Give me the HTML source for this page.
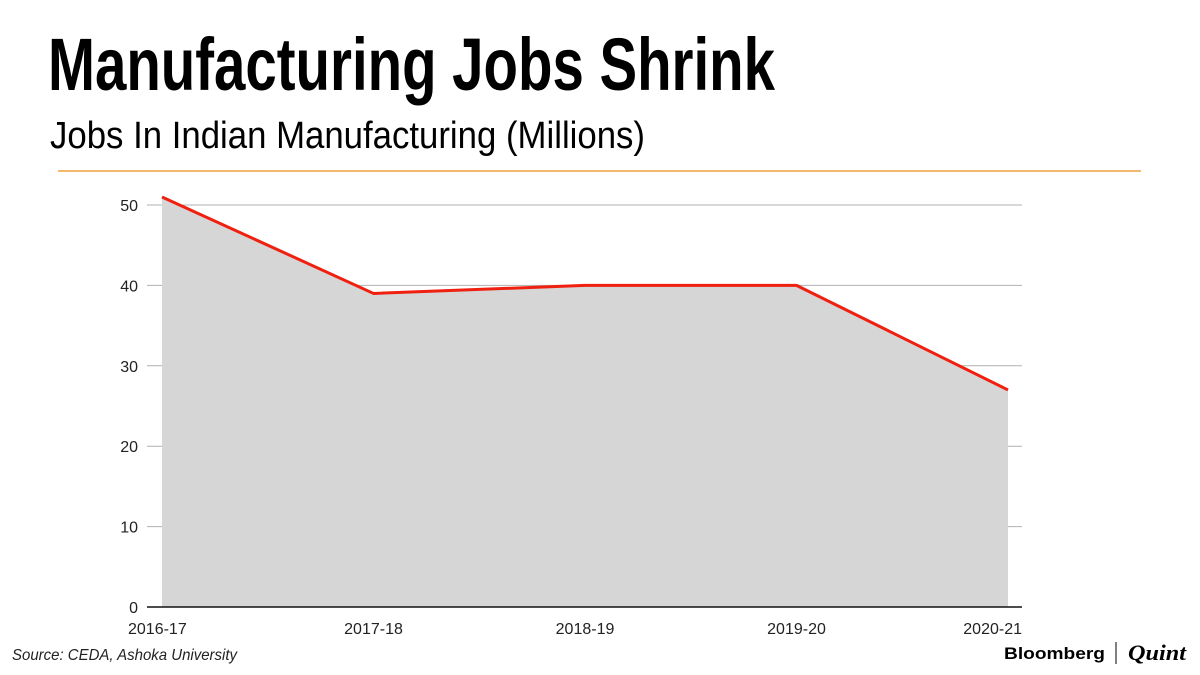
<!DOCTYPE html>
<html><head><meta charset="utf-8"><style>
html,body{margin:0;padding:0;background:#fff;}
svg{display:block;font-family:"Liberation Sans",sans-serif;}
</style></head><body>
<svg width="1200" height="675" viewBox="0 0 1200 675">
<text x="48" y="90" font-size="74" font-weight="bold" textLength="727" lengthAdjust="spacingAndGlyphs">Manufacturing Jobs Shrink</text>
<text x="50" y="148" font-size="38" textLength="595" lengthAdjust="spacingAndGlyphs">Jobs In Indian Manufacturing (Millions)</text>
<line x1="58" y1="171" x2="1141" y2="171" stroke="#f0a040" stroke-width="1.5"/>
<g id="grid"></g>
<g id="area"></g>
<g id="axis"></g>
<text x="12" y="660" font-size="16" font-style="italic" textLength="225" lengthAdjust="spacingAndGlyphs" fill="#222">Source: CEDA, Ashoka University</text>
<g>
<text x="1004" y="659" font-size="17" font-weight="bold" textLength="101" lengthAdjust="spacingAndGlyphs">Bloomberg</text>
<line x1="1116" y1="642" x2="1116" y2="664" stroke="#000" stroke-width="1"/>
<text x="1128" y="660" font-family="Liberation Serif,serif" font-size="22" font-style="italic" font-weight="bold" textLength="58" lengthAdjust="spacingAndGlyphs">Quint</text>
</g>
</svg>
<script>
const categories=["2016-17","2017-18","2018-19","2019-20","2020-21"];
const values=[51,39,40,40,27];
const yTicks=[0,10,20,30,40,50];
const NS="http://www.w3.org/2000/svg";
const x0=162,x1=1008,yBase=607,yTop=205,vMax=50;
function xs(i){return x0+(x1-x0)*i/(categories.length-1);}
function ys(v){return yBase-(yBase-yTop)*v/vMax;}
function mk(tag,attrs,parent){const e=document.createElementNS(NS,tag);for(const k in attrs)e.setAttribute(k,attrs[k]);parent.appendChild(e);return e;}
const grid=document.getElementById('grid'),area=document.getElementById('area'),axis=document.getElementById('axis');
yTicks.forEach(t=>{
  if(t>0){const l=mk('line',{x1:147,x2:1022,y1:ys(t),y2:ys(t),stroke:'#b0b0b0','stroke-width':1},grid);
  
  }
  const tx=mk('text',{x:138,y:ys(t)+6,'font-size':16,'text-anchor':'end',fill:'#222'},axis);
  tx.textContent=t;
  
  
});
let pts=values.map((v,i)=>xs(i)+','+ys(v)).join(' ');
const poly=mk('polygon',{points:xs(0)+','+yBase+' '+pts+' '+xs(values.length-1)+','+yBase,fill:'#d6d6d6'},area);


const line=mk('polyline',{points:pts,fill:'none',stroke:'#f02010','stroke-width':3,'stroke-linejoin':'round'},area);


const base=mk('line',{x1:147,x2:1022,y1:yBase,y2:yBase,stroke:'#111','stroke-width':1.5},axis);


categories.forEach((c,i)=>{
  const anchor=i===0?'start':(i===categories.length-1?'end':'middle');
  const x=i===0?xs(i)-34:(i===categories.length-1?xs(i)+14:xs(i));
  const tx=mk('text',{x:x,y:634,'font-size':16,'text-anchor':anchor,fill:'#222'},axis);
  tx.textContent=c;
  
  
});
</script>
</body></html>
